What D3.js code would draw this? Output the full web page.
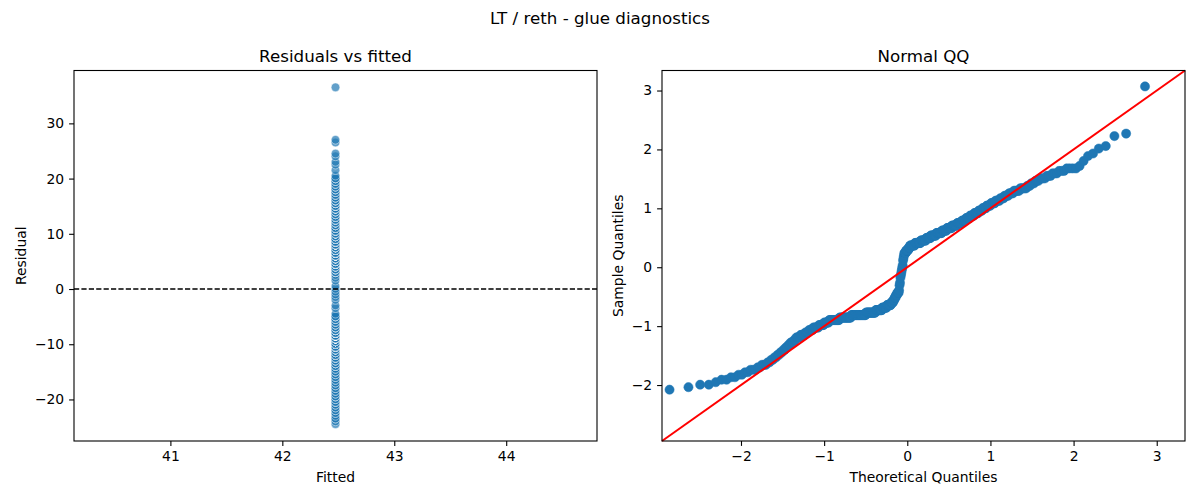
<!DOCTYPE html>
<html><head><meta charset="utf-8">
<script src="https://cdn.jsdelivr.net/npm/d3@7/dist/d3.min.js"></script>
<style>body{margin:0;background:#fff} svg text{font-family:"DejaVu Sans",sans-serif;fill:#000}</style>
</head><body><svg id="c" width="1200" height="500"></svg>
<script>
// ---------------- data ----------------
const figureTitle = "LT / reth - glue diagnostics";
const leftTitle = "Residuals vs fitted";
const rightTitle = "Normal QQ";
const leftXLabel = "Fitted", leftYLabel = "Residual";
const rightXLabel = "Theoretical Quantiles", rightYLabel = "Sample Quantiles";
const fittedValue = 42.475;
const leftXTicks = [41, 42, 43, 44];
const leftYTicks = [-20, -10, 0, 10, 20, 30];
const qqXTicks = [-2, -1, 0, 1, 2, 3];
const qqYTicks = [-2, -1, 0, 1, 2, 3];
const qqLimits = [-2.95, 3.34];
// observed glue values (frequency table)
const glueLevels = [18,18.5,19,19.5,20,20.5,21,21.5,22,22.5,23,23.5,24,24.5,25,25.5,26,26.5,27,27.5,28,28.5,29,29.5,30,30.5,31,31.5,
  32,32.5,33,33.5,34,34.5,35,35.5,36,36.5,37,37.5,38,39,39.5,40.5,41,41.5,42,42.5,43,44,44.5,45,45.5,46,46.5,
  47,47.5,48,48.5,49,49.5,50,50.5,51,51.5,52,52.5,53,53.5,54,54.5,55,55.5,56,56.5,57,57.5,58,58.5,59,59.5,60,60.5,61,61.5,
  62,62.5,63,64,65,65.5,66.5,67,69,69.5,79];
const glueCounts = [1,1,2,1,2,2,2,2,3,2,3,2,2,2,2,2,2,2,2,3,2,4,5,4,5,7,7,7,
  16,20,28,20,14,10,9,5,3,3,3,4,1,1,1,1,1,1,1,1,1,1,1,1,4,5,4,
  11,13,12,10,12,12,10,10,10,9,7,7,7,7,6,6,6,6,6,5,5,5,6,6,3,3,3,4,3,3,
  3,4,1,1,1,1,1,1,1,1,1];

// ---------------- helpers ----------------
function normInv(p){
  const a=[-3.969683028665376e+01,2.209460984245205e+02,-2.759285104469687e+02,1.383577518672690e+02,-3.066479806614716e+01,2.506628277459239e+00];
  const b=[-5.447609879822406e+01,1.615858368580409e+02,-1.556989798598866e+02,6.680131188771972e+01,-1.328068155288572e+01];
  const c=[-7.784894002430293e-03,-3.223964580411365e-01,-2.400758277161838e+00,-2.549732539343734e+00,4.374664141464968e+00,2.938163982698783e+00];
  const d=[7.784695709041462e-03,3.224671290700398e-01,2.445134137142996e+00,3.754408661907416e+00];
  const pl=0.02425, ph=1-pl; let q,r;
  if(p<pl){q=Math.sqrt(-2*Math.log(p));return (((((c[0]*q+c[1])*q+c[2])*q+c[3])*q+c[4])*q+c[5])/((((d[0]*q+d[1])*q+d[2])*q+d[3])*q+1);}
  if(p<=ph){q=p-0.5;r=q*q;return (((((a[0]*r+a[1])*r+a[2])*r+a[3])*r+a[4])*r+a[5])*q/(((((b[0]*r+b[1])*r+b[2])*r+b[3])*r+b[4])*r+1);}
  q=Math.sqrt(-2*Math.log(1-p));return -(((((c[0]*q+c[1])*q+c[2])*q+c[3])*q+c[4])*q+c[5])/((((d[0]*q+d[1])*q+d[2])*q+d[3])*q+1);
}
const fmt = v => (v < 0 ? "\u2212" + Math.abs(v) : String(v));

// residuals = observed - fitted
const glue = glueLevels.flatMap((v, i) => Array(glueCounts[i]).fill(v));
const residuals = glue.map(v => v - fittedValue);

// ---------------- layout ----------------
const svg = d3.select("#c");
const yTop = 70.5, yBottom = 441;
const L = {x0: 74, x1: 597}, R = {x0: 662, x1: 1185};
const tickLen = 4.9, tickPad = 4.9, tickFont = "13.9px", labelFont = "13.9px", titleFont = "16.7px";
const blue = "#1f77b4";

// left scales (matplotlib nonsingular + 5% margins)
const lx0 = fittedValue * 0.95, lx1 = fittedValue * 1.05, lpad = (lx1 - lx0) * 0.05;
const xL = d3.scaleLinear().domain([lx0 - lpad, lx1 + lpad]).range([L.x0, L.x1]);
const rExt = d3.extent(residuals), rpad = (rExt[1] - rExt[0]) * 0.05;
const yL = d3.scaleLinear().domain([rExt[0] - rpad, rExt[1] + rpad]).range([yBottom, yTop]);

// QQ (standardised residuals vs normal quantiles)
const n = residuals.length;
const mean = d3.mean(residuals);
const sd = Math.sqrt(d3.mean(residuals, v => (v - mean) * (v - mean)));
const qq = residuals.slice().sort(d3.ascending).map((v, i) => ({t: normInv((i + 1) / (n + 1)), s: (v - mean) / sd}));
const xR = d3.scaleLinear().domain(qqLimits).range([R.x0, R.x1]);
const yR = d3.scaleLinear().domain(qqLimits).range([yBottom, yTop]);

function styleAxis(g){
  g.select(".domain").remove();
  g.selectAll(".tick line").attr("stroke", "#000").attr("stroke-width", 1.1);
  g.selectAll(".tick text").attr("font-size", tickFont).attr("fill", "#000").attr("font-family", "DejaVu Sans");
}
function drawAxes(xs, ys, box, xt, yt){
  svg.append("g").attr("transform", `translate(0,${yBottom})`)
    .call(d3.axisBottom(xs).tickValues(xt).tickFormat(fmt).tickSize(tickLen).tickPadding(tickPad)).call(styleAxis);
  svg.append("g").attr("transform", `translate(${box.x0},0)`)
    .call(d3.axisLeft(ys).tickValues(yt).tickFormat(fmt).tickSize(tickLen).tickPadding(tickPad)).call(styleAxis);
}
function frame(box){
  svg.append("rect").attr("x", box.x0).attr("y", yTop).attr("width", box.x1 - box.x0).attr("height", yBottom - yTop)
    .attr("fill", "none").attr("stroke", "#000").attr("stroke-width", 1.1);
}

// ---------- left panel ----------
const gL = svg.append("g");
gL.selectAll("circle").data(residuals).join("circle")
  .attr("cx", () => xL(fittedValue)).attr("cy", d => yL(d)).attr("r", 4.3)
  .attr("fill", blue).attr("fill-opacity", 0.7)
  .attr("stroke", "#fff").attr("stroke-opacity", 0.7).attr("stroke-width", 0.67);
gL.append("line").attr("x1", L.x0).attr("x2", L.x1).attr("y1", yL(0)).attr("y2", yL(0))
  .attr("stroke", "#000").attr("stroke-width", 1.35).attr("stroke-dasharray", "5.2,2.2");
frame(L);
drawAxes(xL, yL, L, leftXTicks, leftYTicks);

// ---------- right panel ----------
const gR = svg.append("g");
gR.selectAll("circle").data(qq).join("circle")
  .attr("cx", d => xR(d.t)).attr("cy", d => yR(d.s)).attr("r", 4.6)
  .attr("fill", blue).attr("stroke", blue).attr("stroke-width", 0.5);
gR.append("line").attr("x1", xR(qqLimits[0])).attr("y1", yR(qqLimits[0]))
  .attr("x2", xR(qqLimits[1])).attr("y2", yR(qqLimits[1]))
  .attr("stroke", "#ff0000").attr("stroke-width", 2);
frame(R);
drawAxes(xR, yR, R, qqXTicks, qqYTicks);

// ---------- texts ----------
svg.append("text").attr("x", 600).attr("y", 24).attr("text-anchor", "middle").attr("font-size", titleFont).text(figureTitle);
svg.append("text").attr("x", (L.x0 + L.x1) / 2).attr("y", 62).attr("text-anchor", "middle").attr("font-size", titleFont).text(leftTitle);
svg.append("text").attr("x", (R.x0 + R.x1) / 2).attr("y", 62).attr("text-anchor", "middle").attr("font-size", titleFont).text(rightTitle);
svg.append("text").attr("x", (L.x0 + L.x1) / 2).attr("y", 482).attr("text-anchor", "middle").attr("font-size", labelFont).text(leftXLabel);
svg.append("text").attr("x", (R.x0 + R.x1) / 2).attr("y", 482).attr("text-anchor", "middle").attr("font-size", labelFont).text(rightXLabel);
svg.append("text").attr("transform", `translate(26,${(yTop + yBottom) / 2}) rotate(-90)`).attr("text-anchor", "middle").attr("font-size", labelFont).text(leftYLabel);
svg.append("text").attr("transform", `translate(623,${(yTop + yBottom) / 2}) rotate(-90)`).attr("text-anchor", "middle").attr("font-size", labelFont).text(rightYLabel);
</script></body></html>
